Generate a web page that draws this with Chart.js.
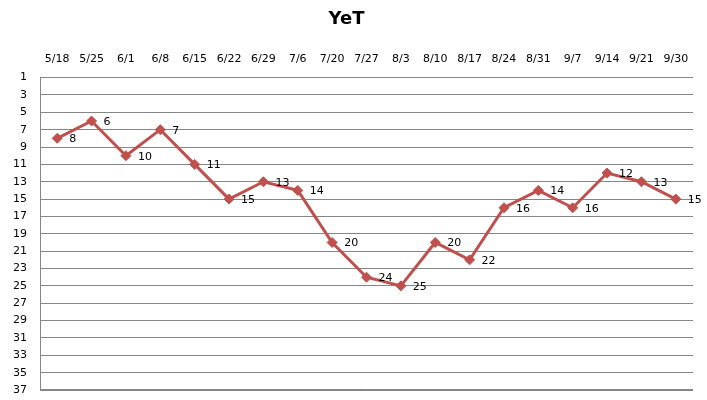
<!DOCTYPE html>
<html>
<head>
<meta charset="utf-8">
<script src="https://cdn.jsdelivr.net/npm/chart.js@4/dist/chart.umd.min.js"></script>
<style>
  html, body { margin: 0; padding: 0; background: #fff; }
  #wrap { width: 707px; height: 400px; }
</style>
</head>
<body>
<div id="wrap"><canvas id="yet_chart"></canvas></div>
<script>
'use strict';

var weeks = ['5/18', '5/25', '6/1', '6/8', '6/15', '6/22', '6/29', '7/6', '7/20', '7/27',
             '8/3', '8/10', '8/17', '8/24', '8/31', '9/7', '9/14', '9/21', '9/30'];
var ranks = [8, 6, 10, 7, 11, 15, 13, 14, 20, 24, 25, 20, 22, 16, 14, 16, 12, 13, 15];
var rankTicks = [1, 3, 5, 7, 9, 11, 13, 15, 17, 19, 21, 23, 25, 27, 29, 31, 33, 35, 37];

// simple value labels to the right of each point
var pointLabels = {
    id: 'pointLabels',
    afterDatasetsDraw: function(chart) {
        var ctx = chart.ctx;
        var meta = chart.getDatasetMeta(0);
        ctx.save();
        ctx.font = '11px "DejaVu Sans", Verdana, sans-serif';
        ctx.fillStyle = '#000';
        ctx.textAlign = 'left';
        ctx.textBaseline = 'middle';
        meta.data.forEach(function(pt, i) {
            ctx.fillText(String(ranks[i]), pt.x + 12, pt.y + 1);
        });
        ctx.restore();
    }
};

// bottom edge line (last grid line sits on the chart border)
var bottomLine = {
    id: 'bottomLine',
    beforeDatasetsDraw: function(chart) {
        var a = chart.chartArea;
        var ctx = chart.ctx;
        ctx.save();
        ctx.strokeStyle = '#868686';
        ctx.lineWidth = 1;
        ctx.beginPath();
        ctx.moveTo(a.left, Math.round(a.bottom) - 0.5);
        ctx.lineTo(a.right, Math.round(a.bottom) - 0.5);
        ctx.stroke();
        ctx.restore();
    }
};

var ctx = document.getElementById('yet_chart').getContext('2d');
new Chart(ctx, {
    type: 'line',
    data: {
        labels: weeks,
        datasets: [{
            label: 'YeT',
            data: ranks,
            borderColor: '#C0504D',
            backgroundColor: '#C0504D',
            borderWidth: 3,
            pointStyle: 'rectRot',
            pointRadius: 5,
            pointBorderWidth: 1,
            tension: 0
        }]
    },
    options: {
        responsive: true,
        maintainAspectRatio: false,
        animation: false,
        layout: { padding: { top: 0, right: 14, bottom: 10, left: 0 } },
        plugins: {
            legend: { display: false },
            tooltip: { enabled: false },
            title: {
                display: true,
                text: 'YeT',
                color: '#000',
                font: { family: '"DejaVu Sans", Verdana, sans-serif', size: 18, weight: 'bold' },
                padding: { top: 9, bottom: 8 }
            }
        },
        scales: {
            x: {
                position: 'top',
                offset: true,
                grid: { display: false, drawTicks: false },
                border: { display: false },
                ticks: {
                    color: '#000',
                    padding: 12,
                    maxRotation: 0,
                    autoSkip: false,
                    font: { family: '"DejaVu Sans", Verdana, sans-serif', size: 11 }
                },
                afterFit: function(axis) { axis.height = 39; }
            },
            y: {
                reverse: true,
                min: 1,
                max: 37,
                afterBuildTicks: function(axis) {
                    axis.ticks = rankTicks.map(function(v) { return { value: v }; });
                },
                grid: { color: '#868686', lineWidth: 1, drawTicks: false },
                border: { display: true, color: '#868686', width: 1 },
                ticks: {
                    color: '#000',
                    padding: 13,
                    font: { family: '"DejaVu Sans", Verdana, sans-serif', size: 11 }
                },
                afterFit: function(axis) {
                    axis.width = 40;
                    axis.paddingTop = 0;
                    axis.paddingBottom = 0;
                }
            }
        }
    },
    plugins: [pointLabels, bottomLine]
});
</script>
</body>
</html>
